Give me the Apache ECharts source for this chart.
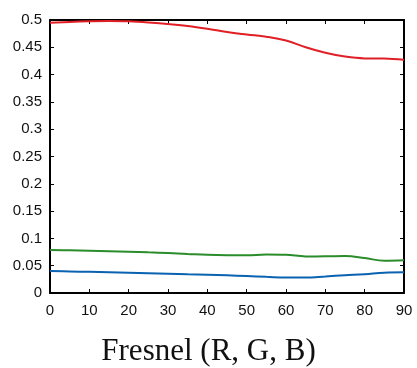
<!DOCTYPE html>
<html><head><meta charset="utf-8">
<script src="https://cdn.jsdelivr.net/npm/echarts@6/dist/echarts.min.js"></script>
<style>html,body{margin:0;padding:0;background:#fff}#c{width:417px;height:368px}</style>
</head><body><div id="c"></div>
<script>
const angles = [0, 5, 10, 15, 20, 25, 30, 35, 40, 45, 50, 55, 60, 65, 70, 75, 80, 85, 90];
const redVals = [0.495, 0.4965, 0.4975, 0.498, 0.4975, 0.4955, 0.4925, 0.489, 0.484, 0.478, 0.4735, 0.4695, 0.4625, 0.450, 0.440, 0.433, 0.4297, 0.4295, 0.427];
const greenVals = [0.0788, 0.0782, 0.0775, 0.0766, 0.0757, 0.0745, 0.0733, 0.0716, 0.0700, 0.0692, 0.069, 0.0705, 0.0700, 0.0670, 0.0672, 0.0676, 0.0640, 0.0590, 0.0598];
const blueVals = [0.0403, 0.0395, 0.0387, 0.0380, 0.0372, 0.0363, 0.0354, 0.0345, 0.0336, 0.0324, 0.0311, 0.0296, 0.0282, 0.0284, 0.0303, 0.0325, 0.0345, 0.0372, 0.0378];
const xTicks = [0, 10, 20, 30, 40, 50, 60, 70, 80, 90];
const yTicks = [0, 0.05, 0.1, 0.15, 0.2, 0.25, 0.3, 0.35, 0.4, 0.45, 0.5];
const titleText = 'Fresnel (R, G, B)';

const pairs = v => angles.map((a, i) => [a, v[i]]);
const chart = echarts.init(document.getElementById('c'), null, {renderer: 'canvas'});
const axisLine = {show: true, onZero: false, lineStyle: {color: '#000', width: 2}};
const axisTick = {show: true, inside: true, length: 4, lineStyle: {color: '#000', width: 1}};
const lbl = {color: '#111', fontFamily: 'Liberation Sans', fontSize: 15};
chart.setOption({
  animation: false,
  title: {text: titleText, left: 'center', top: 331, textStyle: {fontFamily: 'Liberation Serif', fontWeight: 'normal', fontSize: 31, color: '#111'}},
  grid: {left: 50, right: 13, top: 20, bottom: 75},
  xAxis: [
    {type: 'value', min: 0, max: 90, interval: 10, position: 'bottom', axisLine, axisTick, splitLine: {show: false},
     axisLabel: Object.assign({margin: 10, formatter: v => xTicks.includes(v) ? String(v) : ''}, lbl)},
    {type: 'value', min: 0, max: 90, interval: 10, position: 'top', axisLine, axisTick, splitLine: {show: false}, axisLabel: {show: false}}
  ],
  yAxis: [
    {type: 'value', min: 0, max: 0.5, interval: 0.05, position: 'left', axisLine, axisTick, splitLine: {show: false},
     axisLabel: Object.assign({margin: 8, formatter: v => { const t = yTicks.find(x => Math.abs(x - v) < 1e-9); return t === undefined ? '' : String(+t.toFixed(2)); }}, lbl)},
    {type: 'value', min: 0, max: 0.5, interval: 0.05, position: 'right', axisLine, axisTick, splitLine: {show: false}, axisLabel: {show: false}}
  ],
  series: [
    {type: 'line', name: 'R', data: pairs(redVals), smooth: 0.4, showSymbol: false, lineStyle: {color: '#e01f26', width: 2}},
    {type: 'line', name: 'G', data: pairs(greenVals), smooth: 0.4, showSymbol: false, lineStyle: {color: '#2a8c2a', width: 2}},
    {type: 'line', name: 'B', data: pairs(blueVals), smooth: 0.4, showSymbol: false, lineStyle: {color: '#0a62b0', width: 2}}
  ]
});
</script></body></html>
